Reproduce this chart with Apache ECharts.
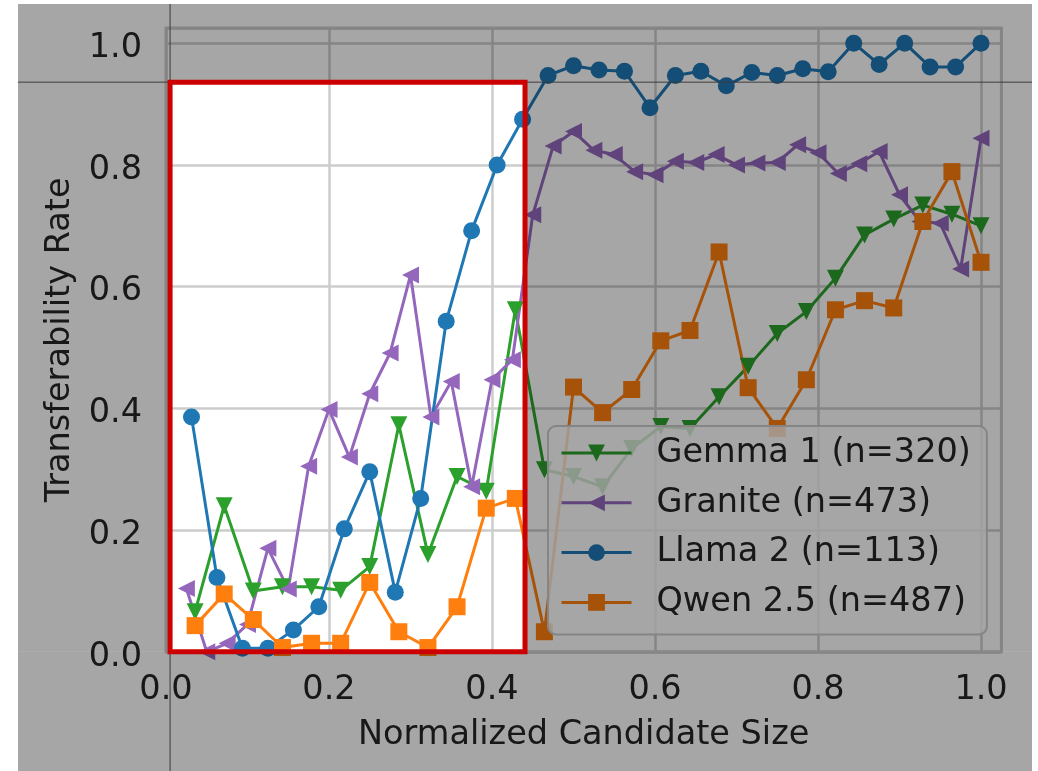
<!DOCTYPE html>
<html><head><meta charset="utf-8">
<script src="https://cdn.jsdelivr.net/npm/echarts@6/dist/echarts.min.js"></script>
<style>html,body{margin:0;padding:0;background:#fff}#c{width:1038px;height:771px}</style>
</head><body><div id="c"></div>
<script>
// x positions (normalized candidate size) per model
const x28 = [0.0357,0.0714,0.1071,0.1429,0.1786,0.2143,0.25,0.2857,0.3214,0.3571,0.3929,0.4286,0.4643,0.5,
             0.5357,0.5714,0.6071,0.6429,0.6786,0.7143,0.75,0.7857,0.8214,0.8571,0.8929,0.9286,0.9643,1.0];
const x32 = [0.0313,0.0625,0.0938,0.125,0.1563,0.1875,0.2188,0.25,0.2813,0.3125,0.3438,0.375,0.4063,0.4375,0.4688,0.5,
             0.5313,0.5625,0.5938,0.625,0.6563,0.6875,0.7188,0.75,0.7813,0.8125,0.8438,0.875,0.9063,0.9375,0.9688,1.0];
const x40 = [0.025,0.05,0.075,0.1,0.125,0.15,0.175,0.2,0.225,0.25,0.275,0.3,0.325,0.35,0.375,0.4,0.425,0.45,0.475,0.5,
             0.525,0.55,0.575,0.6,0.625,0.65,0.675,0.7,0.725,0.75,0.775,0.8,0.825,0.85,0.875,0.9,0.925,0.95,0.975,1.0];

// transferability rates
const gemma = [0.066,0.240,0.100,0.107,0.107,0.101,0.140,0.373,0.160,0.288,0.264,0.562,0.299,0.288,
               0.271,0.334,0.370,0.367,0.419,0.469,0.523,0.559,0.614,0.685,0.711,0.734,0.719,0.700];
const granite = [0.104,0.000,0.014,0.045,0.170,0.103,0.305,0.398,0.320,0.424,0.491,0.619,0.386,0.444,0.271,0.447,0.480,0.718,0.831,0.855,
                 0.824,0.817,0.789,0.784,0.806,0.804,0.817,0.800,0.803,0.804,0.833,0.820,0.786,0.802,0.822,0.751,0.707,0.704,0.629,0.844];
const llama = [0.386,0.122,0.006,0.006,0.036,0.074,0.202,0.296,0.098,0.252,0.543,0.692,0.800,0.875,0.947,0.963,
               0.956,0.954,0.894,0.947,0.954,0.930,0.952,0.947,0.958,0.953,1.000,0.965,1.000,0.961,0.961,1.000];
const qwen = [0.043,0.095,0.053,0.007,0.014,0.014,0.114,0.033,0.007,0.074,0.236,0.252,0.033,0.435,
              0.393,0.431,0.511,0.528,0.657,0.434,0.367,0.447,0.562,0.577,0.565,0.707,0.789,0.640];

const names = ['Gemma 1 (n=320)','Granite (n=473)','Llama 2 (n=113)','Qwen 2.5 (n=487)'];
const colors = ['#2ca02c','#9467bd','#1f77b4','#ff7f0e'];
const axisMax = 1.025;
const xTitle = 'Normalized Candidate Size';
const yTitle = 'Transferability Rate';

// highlighted (undimmed) region in data coordinates
const highlightX = [0.005, 0.4405];
const highlightY = [0, 0.936];

const FONT = 'DejaVu Sans';
const FS = 33.5;
const TXT = '#262626';

function pairs(xs, ys){ return xs.map((x,i)=>[x, ys[i]]); }
function tickFmt(v){ return Math.abs(v*5 - Math.round(v*5)) < 1e-6 ? v.toFixed(1) : ''; }

function mk(i, xs, ys, symbol, rot){
  return {
    name: names[i], type: 'line', data: pairs(xs, ys),
    symbol: symbol, symbolSize: 17, symbolRotate: rot, showAllSymbol: true,
    lineStyle: {color: colors[i], width: 3},
    itemStyle: {color: colors[i]},
    emphasis: {disabled: true}, z: 2
  };
}

const chart = echarts.init(document.getElementById('c'), null, {renderer: 'canvas'});
chart.setOption({
  animation: false,
  backgroundColor: '#ffffff',
  textStyle: {fontFamily: FONT},
  grid: {left: 166, top: 28, right: 36.6, bottom: 119.2, show: true, borderColor: '#cccccc', borderWidth: 3,
         backgroundColor: 'transparent', outerBoundsMode: 'none', containLabel: false},
  xAxis: {
    type: 'value', min: 0, max: axisMax, interval: 0.2,
    name: xTitle, nameLocation: 'middle', nameGap: 66,
    nameTextStyle: {fontFamily: FONT, fontSize: FS, color: TXT},
    axisLine: {show: false}, axisTick: {show: false},
    axisLabel: {fontFamily: FONT, fontSize: FS, color: TXT, margin: 21, formatter: tickFmt},
    splitLine: {show: true, lineStyle: {color: '#cccccc', width: 2.5}}
  },
  yAxis: {
    type: 'value', min: 0, max: axisMax, interval: 0.2,
    name: yTitle, nameLocation: 'middle', nameGap: 89,
    nameTextStyle: {fontFamily: FONT, fontSize: FS, color: TXT},
    axisLine: {show: false}, axisTick: {show: false},
    axisLabel: {fontFamily: FONT, fontSize: FS, color: TXT, margin: 24, formatter: tickFmt,
                verticalAlign: 'top', lineHeight: 10},
    splitLine: {show: true, lineStyle: {color: '#cccccc', width: 2.5}}
  },
  legend: {
    orient: 'vertical', left: 548, top: 426,
    padding: [10, 16, 15, 12], itemGap: 15.8, itemWidth: 70, itemHeight: 21,
    backgroundColor: 'rgba(255,255,255,0.8)', borderColor: '#cccccc', borderWidth: 2, borderRadius: 8,
    lineStyle: {width: 3},
    textStyle: {fontFamily: FONT, fontSize: FS, color: TXT, padding: [0,0,0,20]},
    data: names
  },
  series: [
    mk(0, x28, gemma, 'triangle', 180),
    mk(1, x40, granite, 'triangle', 90),
    mk(2, x32, llama, 'circle', 0),
    mk(3, x28, qwen, 'rect', 0)
  ]
});

// dimming overlay frame (screenshot region) and highlight box
const FRAME = {x0: 18, y0: 4, x1: 1032, y1: 771};
const p0 = chart.convertToPixel({gridIndex: 0}, [highlightX[0], highlightY[1]]);
const p1 = chart.convertToPixel({gridIndex: 0}, [highlightX[1], highlightY[0]]);
const L = p0[0], T = p0[1], R = p1[0], B = p1[1];
const dim = 'rgba(0,0,0,0.35)';
chart.setOption({
  graphic: [
    {type: 'rect', z: 100, silent: true, shape: {x: FRAME.x0, y: FRAME.y0, width: FRAME.x1-FRAME.x0, height: T-FRAME.y0}, style: {fill: dim}},
    {type: 'rect', z: 100, silent: true, shape: {x: FRAME.x0, y: B, width: FRAME.x1-FRAME.x0, height: FRAME.y1-B}, style: {fill: dim}},
    {type: 'rect', z: 100, silent: true, shape: {x: FRAME.x0, y: T, width: L-FRAME.x0, height: B-T}, style: {fill: dim}},
    {type: 'rect', z: 100, silent: true, shape: {x: R, y: T, width: FRAME.x1-R, height: B-T}, style: {fill: dim}},
    {type: 'line', z: 101, silent: true, shape: {x1: L, y1: FRAME.y0, x2: L, y2: FRAME.y1}, style: {stroke: '#3a3a3a', lineWidth: 1}},
    {type: 'line', z: 101, silent: true, shape: {x1: FRAME.x0, y1: T, x2: FRAME.x1, y2: T}, style: {stroke: '#3a3a3a', lineWidth: 1}},
    {type: 'rect', z: 102, silent: true, shape: {x: L, y: T, width: R-L, height: B-T}, style: {fill: 'none', stroke: '#cc0000', lineWidth: 5}}
  ]
});
</script></body></html>
